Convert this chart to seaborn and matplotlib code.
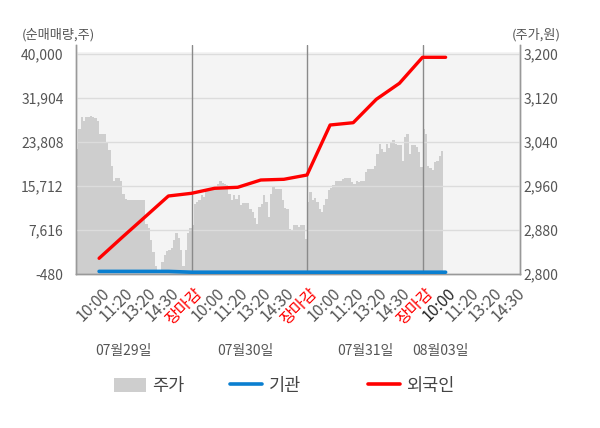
import numpy as np
import matplotlib
matplotlib.use("Agg")
import matplotlib.pyplot as plt
import matplotlib.transforms as mtransforms
from matplotlib.lines import Line2D
from matplotlib.patches import Patch
import seaborn as sns

# data
tick_labels = ["10:00", "11:20", "13:20", "14:30", "장마감"] * 3 + ["10:00", "11:20", "13:20", "14:30"]
day_labels = ["07월29일", "07월30일", "07월31일", "08월03일"]

# 외국인 / 기관 net volume at each labelled time (slots 1..16)
flow_slots = list(range(1, 17))
foreign = [2409, 6273, 10063, 13872, 14369, 15289, 15473, 16816,
           16945, 17736, 26936, 27359, 31665, 34609, 39393, 39393]
institution = [0, 0, 0, 0, -150, -150, -150, -150,
               -150, -150, -150, -150, -150, -150, -150, -150]

# intraday price, one reading every 0.1 slot
price = [
    3028, 3064, 3086, 3079, 3086, 3086, 3088, 3085, 3084, 3079,
    3055, 3055, 3055, 3040, 3025, 2997, 2970, 2974, 2975, 2970,
    2946, 2937, 2935, 2935, 2935, 2935, 2935, 2935, 2935, 2935,
    2891, 2883, 2861, 2840, 2815, 2806, 2808, 2821, 2834, 2841,
    2843, 2848, 2861, 2874, 2865, 2843, 2815, 2843, 2875, 2883,
    2890, 2928, 2931, 2935, 2943, 2940, 2952, 2955, 2957, 2958,
    2960, 2963, 2970, 2965, 2963, 2961, 2946, 2934, 2943, 2937,
    2943, 2925, 2930, 2930, 2930, 2919, 2912, 2902, 2891, 2921,
    2928, 2943, 2931, 2903, 2946, 2958, 2955, 2955, 2955, 2934,
    2920, 2919, 2882, 2879, 2890, 2890, 2885, 2890, 2890, 2864,
    2931, 2949, 2934, 2939, 2931, 2919, 2912, 2925, 2937, 2952,
    2957, 2961, 2969, 2969, 2969, 2973, 2975, 2975, 2975, 2967,
    2963, 2969, 2967, 2969, 2970, 2985, 2991, 2991, 2991, 2997,
    3018, 3037, 3028, 3021, 3037, 3029, 3040, 3043, 3037, 3034,
    3034, 3006, 3049, 3055, 3018, 3034, 3034, 3031, 3021, 2994,
    3064, 3055, 2997, 2993, 2989, 3003, 3006, 3015, 3023, 3028,
]
price_x = np.arange(len(price)) * 0.1

vol_ticks = [-480, 7616, 15712, 23808, 31904, 40000]
price_ticks = [2800, 2880, 2960, 3040, 3120, 3200]

sns.set_style("white")
plt.rcParams["font.family"] = ["Noto Sans CJK KR", "DejaVu Sans"]
txt = "#555555"

fig = plt.figure(figsize=(6, 4.28), dpi=100)
W, H = 600, 428
ax = fig.add_axes([76 / W, 1 - 274 / H, 444 / W, 229 / H])
ax2 = ax.twinx()
ax.set_zorder(2)
ax2.set_zorder(1)
ax.patch.set_visible(False)
ax2.patch.set_facecolor("white")

# price (right axis), behind
ax2.set_ylim(2800, 2800 + 229 * 400 / 220)
ax2.axhspan(2800, 2800 + 222.3 * 400 / 220, color="#f4f4f4", lw=0, zorder=0)
ax2.fill_between(price_x, 2800, price, step="post", color="#cecece", lw=0, zorder=1)

# volume (left axis), on top
ax.set_ylim(-480, -480 + 229 * 40480 / 220)
ax.set_xlim(0, 19.22)
for v in vol_ticks[1:]:
    ax.axhline(v, color="#dcdcdc", lw=1, zorder=1)
for d in [5, 10, 15]:
    ax.axvline(d, color="#8a8a8a", lw=1, zorder=2)
sns.lineplot(x=flow_slots, y=institution, color="#0a7fd0", lw=2.6, ax=ax, zorder=3)
sns.lineplot(x=flow_slots, y=foreign, color="#ff0000", lw=2.4, ax=ax, zorder=4)

ax.set_yticks(vol_ticks)
ax.set_yticklabels([f"{v:,}" for v in vol_ticks])
ax2.set_yticks(price_ticks)
ax2.set_yticklabels([f"{v:,}" for v in price_ticks])
ax.tick_params(axis="y", length=0, pad=9, labelsize=10, labelcolor=txt)
ax2.tick_params(axis="y", length=0, pad=2.5, labelsize=10, labelcolor=txt)

ax.set_xticks(range(1, 20))
ax.set_xticklabels(tick_labels, rotation=45, ha="right", va="top",
                   rotation_mode="anchor", fontsize=11.5)
ax.tick_params(axis="x", which="major", length=0, pad=8)
ax.set_xticks([0, 5, 10, 15, 19.22], minor=True)
ax.tick_params(axis="x", which="minor", length=5, color="#8a8a8a", width=1)
shift = mtransforms.ScaledTranslation(0.02, 0, fig.dpi_scale_trans)
for i, lab in enumerate(ax.get_xticklabels()):
    lab.set_transform(lab.get_transform() + shift)
    if tick_labels[i] == "장마감":
        lab.set_color("#ff0000")
    elif i == 15:
        lab.set_color("#222222")
    else:
        lab.set_color(txt)

ax.set_xlabel("")
ax.set_ylabel("")
for a in (ax, ax2):
    a.spines["top"].set_visible(False)
    for s in ("left", "right", "bottom"):
        a.spines[s].set_color("#999999")
        a.spines[s].set_linewidth(1)

# date labels under the ticks
for lab, xp in zip(day_labels, [123, 245, 365, 440]):
    fig.text(xp / W, 1 - 351 / H, lab, ha="center", va="center", fontsize=10, color=txt)

fig.text(22 / W, 1 - 35 / H, "(순매매량,주)", ha="left", va="center", fontsize=9.5, color=txt)
fig.text(561 / W, 1 - 35 / H, "(주가,원)", ha="right", va="center", fontsize=9.5, color=txt)

# legend, one entry each
items = [
    (Patch(facecolor="#cecece", edgecolor="none"), "주가", 114),
    (Line2D([], [], color="#0a7fd0", lw=2.6), "기관", 230),
    (Line2D([], [], color="#ff0000", lw=2.6), "외국인", 368),
]
for h, lab, xp in items:
    fig.legend([h], [lab], loc="center left", bbox_to_anchor=(xp / W, 1 - 386 / H),
               frameon=False, fontsize=12.6, handlelength=1.8, handleheight=0.9,
               handletextpad=0.4, borderpad=0, borderaxespad=0, labelcolor="#444444")

fig.savefig("out.png", dpi=100)
